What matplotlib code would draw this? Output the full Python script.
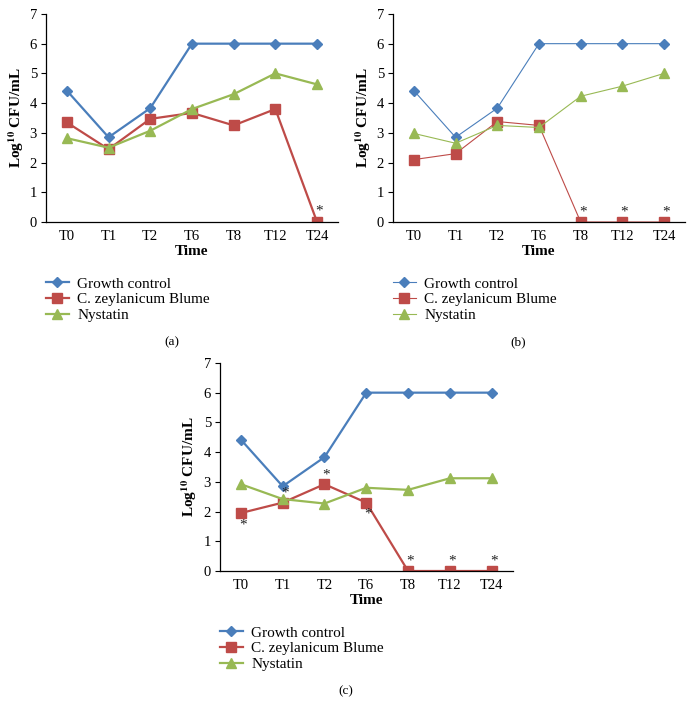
import numpy as np
import matplotlib
matplotlib.use('Agg')
import matplotlib.pyplot as plt

plt.rcParams['font.family'] = ['Liberation Serif', 'DejaVu Serif']
plt.rcParams['mathtext.fontset'] = 'stix'

# ----------------------------------- DATA ----------------------------------- #

times = ['T0', 'T1', 'T2', 'T6', 'T8', 'T12', 'T24']
series_names = ['Growth control', 'C. zeylanicum Blume', 'Nystatin']

growth_a = [4.42, 2.85, 3.83, 6.0, 6.0, 6.0, 6.0]
zeyl_a = [3.35, 2.45, 3.47, 3.67, 3.25, 3.80, 0.0]
nyst_a = [2.82, 2.50, 3.07, 3.80, 4.30, 5.00, 4.63]

growth_b = [4.42, 2.85, 3.83, 6.0, 6.0, 6.0, 6.0]
zeyl_b = [2.10, 2.30, 3.38, 3.25, 0.0, 0.0, 0.0]
nyst_b = [2.98, 2.65, 3.25, 3.18, 4.23, 4.57, 5.00]

growth_c = [4.42, 2.85, 3.83, 6.0, 6.0, 6.0, 6.0]
zeyl_c = [1.95, 2.30, 2.92, 2.30, 0.0, 0.0, 0.0]
nyst_c = [2.92, 2.42, 2.27, 2.80, 2.73, 3.12, 3.12]

# significance stars: (time index, y position)
stars_a = [(6, 0.38)]
stars_b = [(4, 0.35), (5, 0.35), (6, 0.35)]
stars_c = [(0, 1.55), (1, 2.62), (2, 3.22), (3, 1.92), (4, 0.35), (5, 0.35), (6, 0.35)]

# ----------------------------------- PLOT ----------------------------------- #

colors = ['#4a7ebb', '#be4b48', '#98b954']
markers = ['D', 's', '^']
msizes = [5.5, 7, 7]


def draw_panel(ax, series, stars, lw, tag):
    x = np.arange(len(times))
    for vals, name, c, m, ms in zip(series, series_names, colors, markers, msizes):
        ax.plot(x, vals, color=c, marker=m, markersize=ms, lw=lw, label=name,
                markeredgecolor=c)
    for i, yv in stars:
        ax.text(x[i] + 0.05, yv, '*', ha='center', va='center', fontsize=11, color='#222222')
    ax.set_xlim(-0.5, 6.5)
    ax.set_ylim(0, 7)
    ax.set_yticks(range(8))
    ax.set_xticks(x)
    ax.set_xticklabels(times)
    ax.tick_params(axis='x', length=0, labelsize=10.5, pad=6)
    ax.tick_params(axis='y', length=3.5, width=0.8, labelsize=10.5, pad=3)
    ax.spines['top'].set_visible(False)
    ax.spines['right'].set_visible(False)
    ax.spines['left'].set_linewidth(0.9)
    ax.spines['bottom'].set_linewidth(0.9)
    ax.set_xlabel('Time', fontweight='bold', fontsize=11, labelpad=1)
    ax.set_ylabel(r'Log$^{\mathbf{10}}$ CFU/mL', fontweight='bold', fontsize=11)
    ax.yaxis.set_label_coords(-0.07, 0.5)
    ax.legend(loc='upper left', bbox_to_anchor=(0.0, -0.265), frameon=False,
              fontsize=11, handlelength=1.5, handletextpad=0.55, labelspacing=0.12,
              borderaxespad=0, borderpad=0)
    ax.text(0.43, -0.58, tag, transform=ax.transAxes, ha='center', va='center', fontsize=9.5)


fig = plt.figure(figsize=(6.95, 7.15), dpi=100)
ax_a = fig.add_axes([0.0662, 0.6895, 0.420, 0.291])
ax_b = fig.add_axes([0.5655, 0.6895, 0.420, 0.291])
ax_c = fig.add_axes([0.3165, 0.2014, 0.421, 0.291])

draw_panel(ax_a, [growth_a, zeyl_a, nyst_a], stars_a, 1.6, '(a)')
draw_panel(ax_b, [growth_b, zeyl_b, nyst_b], stars_b, 0.8, '(b)')
draw_panel(ax_c, [growth_c, zeyl_c, nyst_c], stars_c, 1.6, '(c)')

fig.savefig('out.png', dpi=100)
